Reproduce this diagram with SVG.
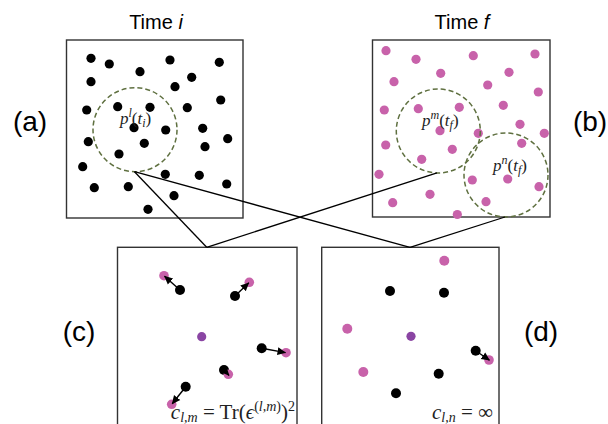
<svg xmlns="http://www.w3.org/2000/svg" width="608" height="424" viewBox="0 0 608 424">
<defs>
<style>
.box{fill:#fff;stroke:#333;stroke-width:1.4}
.k{fill:#000}
.p{fill:#c862aa}
.v{fill:#8a45a3}
.dash{fill:none;stroke:#5f7040;stroke-width:1.5;stroke-dasharray:5 3}
.conn{stroke:#000;stroke-width:1.3;fill:none}
.arr{stroke:#000;stroke-width:1.4;fill:none;marker-end:url(#ah)}
.lab{font-family:"Liberation Sans",Arial,sans-serif;font-size:28px;fill:#000;text-anchor:middle}
.ttl{font-family:"Liberation Sans",Arial,sans-serif;font-size:20px;fill:#000;text-anchor:middle}
.m{font-family:"Liberation Serif","DejaVu Serif",serif;fill:#222}
</style>
<marker id="ah" markerWidth="9" markerHeight="9" refX="8" refY="4.5" orient="auto" markerUnits="userSpaceOnUse">
<path d="M0,0.5 L8.5,4.5 L0,8.5 Z" fill="#000"/>
</marker>
</defs>
<rect width="608" height="424" fill="#fff"/>

<g id="titles">
<text class="ttl" x="156" y="29">Time <tspan font-style="italic">i</tspan></text>
<text class="ttl" x="462" y="29">Time <tspan font-style="italic">f</tspan></text>
<text class="lab" x="30" y="131">(a)</text>
<text class="lab" x="590" y="131">(b)</text>
<text class="lab" x="79" y="341">(c)</text>
<text class="lab" x="541" y="341">(d)</text>
</g>

<g id="box-a">
<rect class="box" x="66.5" y="40" width="176.5" height="178"/>
<g class="k">
<circle cx="91" cy="58.3" r="4.6"/><circle cx="109.3" cy="64" r="4.6"/><circle cx="170" cy="60" r="4.6"/><circle cx="219.3" cy="62.3" r="4.6"/>
<circle cx="140" cy="71.7" r="4.6"/><circle cx="91" cy="81.7" r="4.6"/><circle cx="191.7" cy="77.3" r="4.6"/><circle cx="175" cy="86.7" r="4.6"/>
<circle cx="220.7" cy="100" r="4.6"/><circle cx="86.7" cy="110" r="4.6"/><circle cx="117.7" cy="106.7" r="4.6"/><circle cx="150" cy="107.3" r="4.6"/>
<circle cx="187.3" cy="107.7" r="4.6"/><circle cx="134" cy="127.7" r="4.6"/><circle cx="165.7" cy="130" r="4.6"/><circle cx="202.7" cy="128.3" r="4.6"/>
<circle cx="227.7" cy="138.7" r="4.6"/><circle cx="88.3" cy="141.7" r="4.6"/><circle cx="144.3" cy="143.3" r="4.6"/><circle cx="205" cy="146.7" r="4.6"/>
<circle cx="119" cy="154" r="4.6"/><circle cx="82.7" cy="166.7" r="4.6"/><circle cx="165.3" cy="174.3" r="4.6"/><circle cx="199.3" cy="175.3" r="4.6"/>
<circle cx="226.7" cy="184" r="4.6"/><circle cx="94.3" cy="187.7" r="4.6"/><circle cx="128.3" cy="186.7" r="4.6"/><circle cx="174" cy="195.7" r="4.6"/>
<circle cx="148" cy="209.3" r="4.6"/>
</g>
<circle class="dash" cx="135" cy="129.7" r="42"/>
<text class="m" x="120" y="124" font-size="17"><tspan font-style="italic">p</tspan><tspan font-style="italic" font-size="12" dy="-7">l</tspan><tspan dy="7">(</tspan><tspan font-style="italic">t</tspan><tspan font-style="italic" font-size="12" dy="3">i</tspan><tspan dy="-3">)</tspan></text>
</g>

<g id="box-b">
<rect class="box" x="372.5" y="40" width="177.5" height="177"/>
<g class="p">
<circle cx="386" cy="50.7" r="4.6"/><circle cx="416" cy="59.3" r="4.6"/><circle cx="473.3" cy="55.7" r="4.6"/><circle cx="535" cy="54" r="4.6"/>
<circle cx="440.7" cy="73.3" r="4.6"/><circle cx="509" cy="72.3" r="4.6"/><circle cx="394" cy="81.7" r="4.6"/><circle cx="487.7" cy="85" r="4.6"/>
<circle cx="538.3" cy="92" r="4.6"/><circle cx="384.3" cy="110" r="4.6"/><circle cx="418.3" cy="108.7" r="4.6"/><circle cx="459.3" cy="107.3" r="4.6"/>
<circle cx="503.3" cy="105.3" r="4.6"/><circle cx="440" cy="130.7" r="4.6"/><circle cx="478.3" cy="133.3" r="4.6"/><circle cx="520" cy="124.3" r="4.6"/>
<circle cx="544.3" cy="133.3" r="4.6"/><circle cx="385.7" cy="145" r="4.6"/><circle cx="452.3" cy="149.3" r="4.6"/><circle cx="521.7" cy="143.3" r="4.6"/>
<circle cx="421.7" cy="159.3" r="4.6"/><circle cx="379" cy="174.3" r="4.6"/><circle cx="472.3" cy="180" r="4.6"/><circle cx="507.7" cy="179" r="4.6"/>
<circle cx="539" cy="186.7" r="4.6"/><circle cx="430" cy="194.3" r="4.6"/><circle cx="392.7" cy="202.7" r="4.6"/><circle cx="486" cy="201.7" r="4.6"/>
<circle cx="457.3" cy="214.5" r="4.6"/>
</g>
<circle class="dash" cx="438.3" cy="131" r="42"/>
<circle class="dash" cx="506" cy="175" r="42"/>
<text class="m" x="422" y="126" font-size="17"><tspan font-style="italic">p</tspan><tspan font-style="italic" font-size="12" dy="-7">m</tspan><tspan dy="7">(</tspan><tspan font-style="italic">t</tspan><tspan font-style="italic" font-size="12" dy="3">f</tspan><tspan dy="-3">)</tspan></text>
<text class="m" x="493" y="170.5" font-size="17"><tspan font-style="italic">p</tspan><tspan font-style="italic" font-size="12" dy="-7">n</tspan><tspan dy="7">(</tspan><tspan font-style="italic">t</tspan><tspan font-style="italic" font-size="12" dy="3">f</tspan><tspan dy="-3">)</tspan></text>
</g>

<g id="box-c">
<rect class="box" x="117.5" y="247.3" width="179.5" height="200"/>
<g class="k">
<circle cx="180" cy="290" r="5"/><circle cx="235" cy="296" r="5"/><circle cx="261.7" cy="348.3" r="5"/><circle cx="224" cy="370" r="5"/><circle cx="185.7" cy="386.7" r="5"/>
</g>
<g class="p">
<circle cx="164" cy="275.7" r="4.8"/><circle cx="249.3" cy="282.3" r="4.8"/><circle cx="286" cy="352.7" r="4.8"/><circle cx="228.3" cy="374.3" r="4.8"/><circle cx="171.7" cy="404.3" r="4.8"/>
</g>
<circle class="v" cx="201.7" cy="336.7" r="4.6"/>
<path class="arr" d="M180,290 L164.5,276.2"/>
<path class="arr" d="M235,296 L248.8,282.8"/>
<path class="arr" d="M261.7,348.3 L285.5,352.6"/>
<path class="arr" d="M224,370 L229,375.5"/>
<path class="arr" d="M185.7,386.7 L172.2,403.8"/>
<text class="m" x="295" y="419" font-size="21" text-anchor="end"><tspan font-style="italic">c</tspan><tspan font-style="italic" font-size="14" dy="3">l,m</tspan><tspan dy="-3"> = Tr(</tspan><tspan font-style="italic">ϵ</tspan><tspan font-size="14" dy="-8">(<tspan font-style="italic">l,m</tspan>)</tspan><tspan dy="8">)</tspan><tspan font-size="14" dy="-8">2</tspan></text>
</g>

<g id="box-d">
<rect class="box" x="321.7" y="247.3" width="177.3" height="200"/>
<g class="k">
<circle cx="390" cy="291" r="5"/><circle cx="444" cy="292.7" r="5"/><circle cx="475.7" cy="350.7" r="5"/><circle cx="438.7" cy="373.7" r="5"/><circle cx="396" cy="393.3" r="5"/>
</g>
<g class="p">
<circle cx="444.3" cy="260.7" r="5"/><circle cx="347.3" cy="328.7" r="5"/><circle cx="363.3" cy="372" r="5"/><circle cx="489" cy="360" r="4.8"/>
</g>
<circle class="v" cx="411" cy="336.3" r="4.6"/>
<path class="arr" d="M475.7,350.7 L489.5,360.3"/>
<text class="m" x="493" y="419" font-size="21" text-anchor="end"><tspan font-style="italic">c</tspan><tspan font-style="italic" font-size="14" dy="3">l,n</tspan><tspan dy="-3"> = ∞</tspan></text>
</g>

<g id="connectors">
<line class="conn" x1="134.5" y1="171.7" x2="206.7" y2="247.3"/>
<line class="conn" x1="134.5" y1="171.7" x2="410" y2="247.3"/>
<line class="conn" x1="437" y1="172.8" x2="206.7" y2="247.3"/>
<line class="conn" x1="505" y1="217" x2="410" y2="247.3"/>
</g>
</svg>
